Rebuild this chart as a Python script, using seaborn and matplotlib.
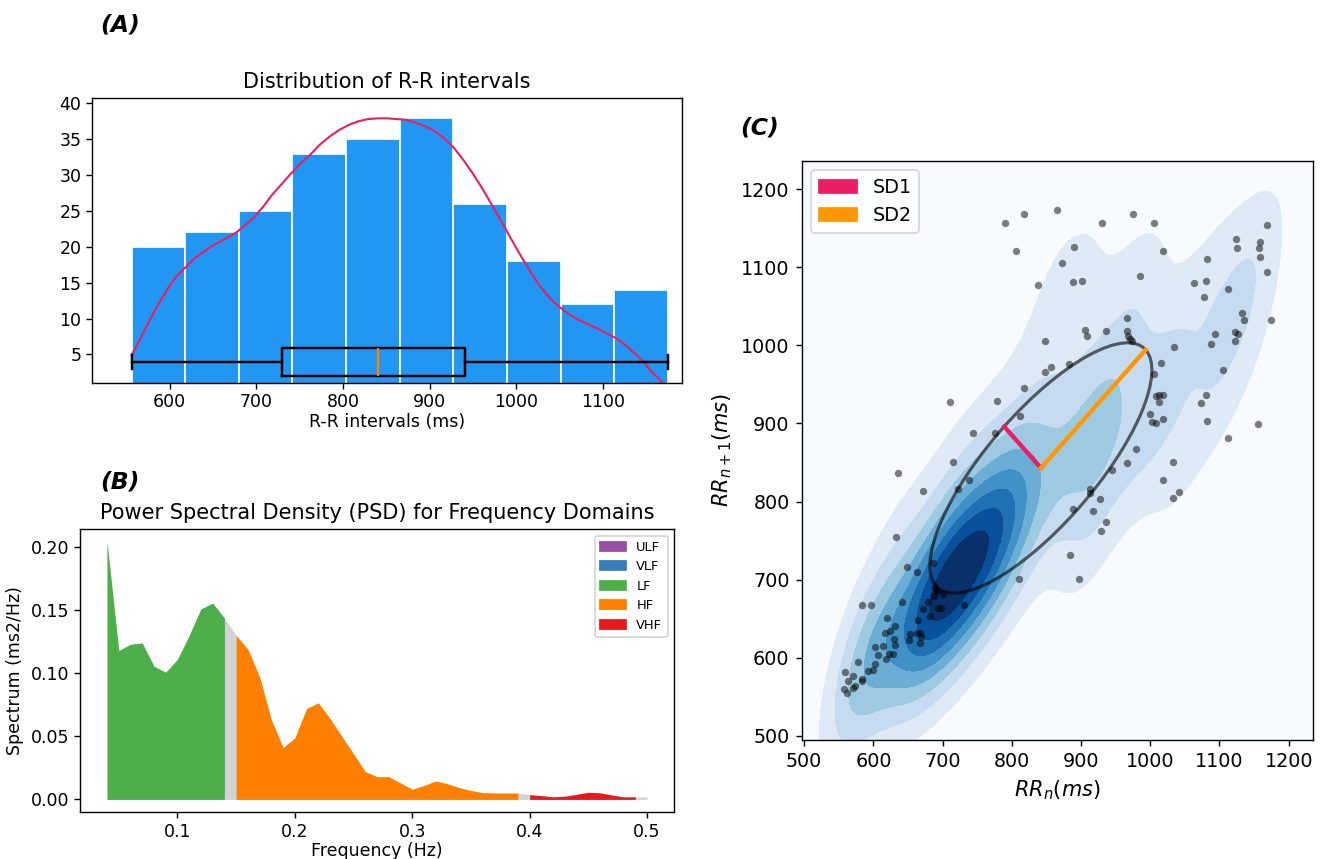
import numpy as np
import matplotlib
matplotlib.use("Agg")
import matplotlib.pyplot as plt
import seaborn as sns
from matplotlib.patches import Patch, Ellipse
from seaborn.external.kde import gaussian_kde

# ---------------- Panel A data: R-R interval distribution ----------------
hist_edges = [556.0, 617.9, 679.8, 741.7, 803.6, 865.5, 927.4, 989.3, 1051.2, 1113.1, 1175.0]
hist_counts = [20, 22, 25, 33, 35, 38, 26, 18, 12, 14]
kde_x = [556, 567, 577, 588, 599, 608, 618, 628, 639, 650, 661, 670, 678, 688, 698, 708, 718,
         729, 740, 751, 762, 773, 785, 796, 807, 818, 829, 840, 851, 862, 873, 884, 895, 906,
         917, 928, 939, 950, 962, 973, 984, 995, 1006, 1017, 1028, 1039, 1050, 1061, 1072,
         1083, 1094, 1105, 1116, 1127, 1139, 1148, 1156, 1163, 1169, 1175]
kde_y = [4.9, 7.4, 9.8, 12.2, 14.4, 15.9, 17.1, 18.3, 19.3, 20.2, 20.9, 21.5, 22.1, 23.1, 24.2,
         25.6, 27.2, 28.7, 30.2, 31.6, 32.8, 34.2, 35.4, 36.3, 37.0, 37.5, 37.8, 37.9, 37.9,
         37.8, 37.7, 37.3, 36.8, 36.1, 35.1, 33.8, 32.1, 30.2, 27.9, 25.6, 23.3, 20.9, 18.6,
         16.4, 14.4, 12.8, 11.6, 10.6, 9.8, 9.2, 8.6, 7.9, 7.2, 6.2, 4.9, 3.8, 2.6, 1.8, 1.0, 0.0]
box_stats = {"whislo": 556, "q1": 730, "med": 841, "q3": 941, "whishi": 1175}

# ---------------- Panel B data: PSD ----------------
freq = [0.04, 0.05, 0.06, 0.07, 0.08, 0.09, 0.10, 0.11, 0.12, 0.13, 0.14, 0.15, 0.16, 0.17,
        0.18, 0.19, 0.20, 0.21, 0.22, 0.23, 0.24, 0.25, 0.26, 0.27, 0.28, 0.29, 0.30, 0.31,
        0.32, 0.33, 0.34, 0.35, 0.36, 0.37, 0.38, 0.39, 0.40, 0.41, 0.42, 0.43, 0.44, 0.45,
        0.46, 0.47, 0.48, 0.49, 0.50]
power = [0.204, 0.118, 0.123, 0.124, 0.1055, 0.1008, 0.111, 0.130, 0.151, 0.1556, 0.1437,
         0.130, 0.119, 0.097, 0.063, 0.041, 0.0487, 0.072, 0.0765, 0.064, 0.050, 0.036,
         0.022, 0.018, 0.018, 0.013, 0.008, 0.011, 0.0146, 0.0124, 0.0093, 0.007, 0.0053,
         0.005, 0.005, 0.005, 0.0037, 0.003, 0.002, 0.0025, 0.004, 0.0056, 0.0052, 0.0035,
         0.002, 0.002, 0.002]
band_names = ["ULF", "VLF", "LF", "HF", "VHF"]
band_lo = [0.0, 0.0033, 0.04, 0.15, 0.40]
band_hi = [0.0033, 0.04, 0.15, 0.40, 0.50]
band_colors = ["#984ea3", "#377eb8", "#4daf4a", "#ff7f00", "#e41a1c"]

# ---------------- Panel C data: Poincare plot ----------------
# points visible in the scatter
rr_n = [790, 818, 865, 930, 975, 1006, 806, 890, 873, 1019, 838, 888, 902, 985, 1169, 1124,
        1125, 1158, 1157, 1158, 1082, 1169, 1063, 1081, 1078, 1112, 1133, 1136, 1175, 1094,
        1123, 1127, 1088, 1122, 1105, 1034, 966, 967, 968, 971, 973, 936, 906, 909, 848, 1015,
        1005, 883, 857, 848, 817, 711, 779, 812, 744, 775, 1008, 1013, 1019, 1012, 999, 1003,
        1009, 1019, 1073, 1081, 1082, 1112, 1156, 979, 966, 1033, 944, 1018, 1033, 1042, 913,
        913, 927, 715, 636, 672, 722, 738, 632, 888, 917, 936, 929, 884, 897, 810, 686, 648,
        663, 596, 583, 731, 641, 689, 690, 692, 701, 679, 671, 687, 693, 697, 682, 665, 619,
        663, 667, 669, 653, 651, 667, 617, 624, 631, 630, 631, 623, 629, 618, 603, 606, 614,
        603, 599, 592, 578, 559, 570, 564, 583, 583, 557, 562, 571, 573]
rr_n1 = [1157, 1168, 1174, 1157, 1168, 1157, 1121, 1126, 1105, 1121, 1077, 1081, 1082, 1089,
         1154, 1136, 1125, 1133, 1125, 1113, 1111, 1094, 1080, 1082, 1062, 1072, 1041, 1033,
         1032, 1015, 1017, 1015, 1002, 1005, 968, 998, 1035, 1019, 1012, 1008, 1006, 1019,
         1020, 1012, 1006, 978, 963, 976, 972, 966, 946, 928, 929, 909, 888, 888, 935, 928,
         936, 937, 912, 902, 900, 906, 926, 936, 903, 882, 899, 867, 849, 850, 841, 828, 804,
         812, 816, 811, 803, 850, 837, 813, 816, 827, 754, 791, 788, 774, 762, 731, 701, 701,
         721, 716, 710, 667, 667, 668, 671, 691, 687, 685, 682, 671, 662, 679, 664, 664, 653,
         648, 651, 631, 631, 627, 630, 622, 619, 631, 634, 640, 624, 616, 605, 605, 598, 613,
         604, 615, 592, 584, 583, 595, 582, 577, 570, 573, 570, 560, 555, 561, 564]
# estimated beats that vanish under the dark core of the density (they only feed the KDE)
core_n = [665, 675, 680, 687, 693, 697, 703, 708, 713, 717, 675, 687, 695, 705, 715, 723, 732,
          740, 750, 760, 723, 727, 733, 737, 743, 747, 753, 757, 763, 769, 773, 777, 783, 787,
          793, 797, 803, 807, 813, 820, 685, 697, 707, 720, 727, 740, 750, 760, 770, 780, 852,
          862, 870, 880, 890, 902, 910, 920, 930, 942,
          720, 725, 731, 738, 745, 751, 758, 764, 770, 774, 777, 722,
          781, 787, 793, 799, 805, 811, 817, 823, 827, 832, 837, 784, 820,
          871, 884, 897, 905, 913, 925, 937, 955, 973]
core_n1 = [675, 647, 680, 659, 690, 665, 675, 710, 681, 665, 665, 687, 651, 697, 675, 720, 691,
           707, 735, 717, 695, 735, 675, 743, 710, 720, 700, 760, 727, 745, 770, 735, 775, 750,
           755, 795, 765, 780, 805, 775, 645, 705, 665, 730, 680, 755, 690, 775, 720, 790, 810,
           850, 830, 870, 845, 890, 860, 905, 870, 915,
           675, 710, 745, 695, 765, 725, 705, 750, 780, 735, 715, 735,
           755, 805, 735, 775, 820, 760, 790, 745, 835, 780, 810, 780, 815,
           870, 880, 900, 870, 905, 890, 920, 935, 945]
poincare_center = (842, 843)
sd1 = 75
sd2 = 214

# ---------------- Figure ----------------
fig = plt.figure(figsize=(10.6, 6.872), dpi=125)
axA = fig.add_axes([0.0692, 0.5545, 0.4453, 0.3311])
axB = fig.add_axes([0.0604, 0.0544, 0.4483, 0.3295])
axC = fig.add_axes([0.6051, 0.1382, 0.3861, 0.6747])

# Panel A
centers = [(a + b) / 2 for a, b in zip(hist_edges[:-1], hist_edges[1:])]
sns.histplot(x=centers, weights=hist_counts, bins=hist_edges, ax=axA, color="#2196F3",
             edgecolor="white", linewidth=1, alpha=1)
sns.lineplot(x=kde_x, y=kde_y, ax=axA, color="#E91E63", linewidth=1.2)
stats = dict(box_stats)
stats["fliers"] = []
lineprops = dict(color="black", linewidth=1.4)
axA.bxp([stats], positions=[3.9], widths=3.86, orientation="horizontal", showfliers=False,
        manage_ticks=False, boxprops=lineprops, whiskerprops=lineprops, capprops=lineprops,
        medianprops=dict(color="#ff7f0e", linewidth=1.4))
axA.set_xlim(510, 1191)
axA.set_ylim(1.06, 40.7)
axA.set_yticks([5, 10, 15, 20, 25, 30, 35, 40])
axA.set_ylabel("")
axA.set_xlabel("R-R intervals (ms)", fontsize=10, labelpad=1)
axA.set_title("Distribution of R-R intervals", fontsize=12)
axA.tick_params(pad=2.5)

# Panel B
fr = np.array(freq)
pw = np.array(power)
axB.fill_between(fr, 0, pw, color="lightgrey", linewidth=0)
handles = []
for name, lo, hi, col in zip(band_names, band_lo, band_hi, band_colors):
    mask = (fr >= lo - 1e-9) & (fr < hi - 1e-9)
    if mask.any():
        axB.fill_between(fr[mask], 0, pw[mask], color=col, linewidth=0)
    handles.append(Patch(color=col, label=name))
axB.legend(handles=handles, loc="upper right", fontsize=7.5)
axB.set_xlabel("Frequency (Hz)", fontsize=10, labelpad=1)
axB.set_ylabel("Spectrum (ms2/Hz)", fontsize=10)
axB.set_title("Power Spectral Density (PSD) for Frequency Domains", fontsize=12)
axB.tick_params(pad=2.5)

# Panel C
all_n = rr_n + core_n
all_n1 = rr_n1 + core_n1
lo_lim, hi_lim = 494.0, 1237.0
xx, yy = np.mgrid[lo_lim:hi_lim:220j, lo_lim:hi_lim:220j]
kde = gaussian_kde(np.vstack([all_n, all_n1]), bw_method=0.42)
dens = kde(np.vstack([xx.ravel(), yy.ravel()])).reshape(xx.shape)
n_bands = 9
levels = np.linspace(0, dens.max() * 1.0001, n_bands + 1)
band_cols = plt.get_cmap("Blues")(np.linspace(0, 1, n_bands))
axC.contourf(xx, yy, dens, levels=levels, colors=band_cols)
sns.scatterplot(x=rr_n, y=rr_n1, ax=axC, color="black", alpha=0.5, s=18, linewidth=0)
axC.add_patch(Ellipse(poincare_center, width=2 * sd2, height=2 * sd1, angle=45,
                      fill=False, edgecolor="black", alpha=0.6, linewidth=1.8))
c45 = np.cos(np.pi / 4)
axC.plot([poincare_center[0], poincare_center[0] - sd1 * c45],
         [poincare_center[1], poincare_center[1] + sd1 * c45], color="#E91E63", linewidth=2.5)
axC.plot([poincare_center[0], poincare_center[0] + sd2 * c45],
         [poincare_center[1], poincare_center[1] + sd2 * c45], color="#FF9800", linewidth=2.5)
axC.legend(handles=[Patch(color="#E91E63", label="SD1"), Patch(color="#FF9800", label="SD2")],
           loc="upper left", fontsize=11)
axC.set_xlim(496.5, 1235.6)
axC.set_ylim(494.1, 1236.6)
axC.set_xticks([500, 600, 700, 800, 900, 1000, 1100, 1200])
axC.set_yticks([500, 600, 700, 800, 900, 1000, 1100, 1200])
axC.tick_params(labelsize=11)
axC.set_xlabel(r"$RR_{n} (ms)$", fontsize=12)
axC.set_ylabel(r"$RR_{n+1} (ms)$", fontsize=12)

# Panel labels
fig.text(0.0755, 0.971, "(A)", fontsize=13.5, fontweight="bold", fontstyle="italic", va="center")
fig.text(0.0755, 0.439, "(B)", fontsize=13.5, fontweight="bold", fontstyle="italic", va="center")
fig.text(0.5585, 0.851, "(C)", fontsize=13.5, fontweight="bold", fontstyle="italic", va="center")

fig.savefig("out.png", dpi=125)
